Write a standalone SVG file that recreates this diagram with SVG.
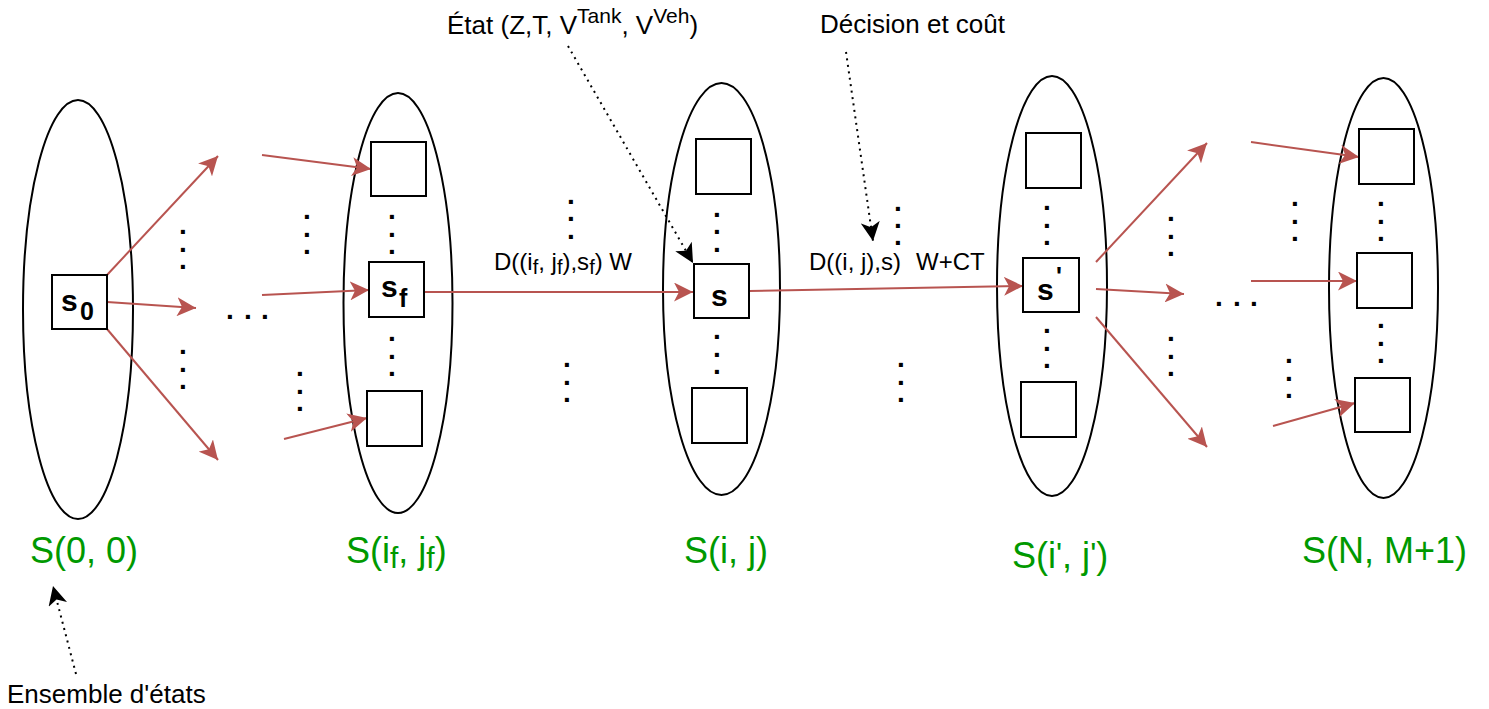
<svg xmlns="http://www.w3.org/2000/svg" width="1489" height="709" viewBox="0 0 1489 709">
<defs>
<style>
.ell{fill:none;stroke:#000;stroke-width:2}
.box{fill:#fff;stroke:#000;stroke-width:2}
.red{fill:none;stroke:#b85450;stroke-width:2;marker-end:url(#ar)}
.dotted{fill:none;stroke:#000;stroke-width:2;stroke-dasharray:2 4.5;marker-end:url(#ab)}
text{font-family:"Liberation Sans",Arial,Helvetica,sans-serif}
.lbl{font-size:26px;fill:#000}
.edge{font-size:24px;fill:#000}
.grn{font-size:36px;fill:#009900}
.st{font-size:30px;font-weight:bold;fill:#000}
.el{font-size:28px;font-weight:bold;fill:#000}
</style>
<marker id="ar" viewBox="0 0 20 19" refX="19" refY="9.5" markerWidth="20" markerHeight="19" markerUnits="userSpaceOnUse" orient="auto"><path d="M0,0 L19,9.5 L0,19 L5,9.5 Z" fill="#b85450" stroke="none"/></marker>
<marker id="ab" viewBox="0 0 20 19" refX="19" refY="9.5" markerWidth="20" markerHeight="19" markerUnits="userSpaceOnUse" orient="auto"><path d="M0,0 L19,9.5 L0,19 L5,9.5 Z" fill="#000" stroke="none"/></marker>
</defs>

<g id="set-0-0">
<ellipse class="ell" cx="78" cy="309.5" rx="55" ry="209.5"/>
<text class="grn" x="30" y="563">S(0, 0)</text>
</g>
<g id="set-if-jf">
<ellipse class="ell" cx="398" cy="303" rx="54.5" ry="210"/>
<text class="grn" x="346" y="563">S(i<tspan font-size="30" dy="5">f</tspan><tspan dy="-5">, j</tspan><tspan font-size="30" dy="5">f</tspan><tspan dy="-5">)</tspan></text>
</g>
<g id="set-i-j">
<ellipse class="ell" cx="721.5" cy="289" rx="58.5" ry="206"/>
<text class="grn" x="684" y="563">S(i, j)</text>
</g>
<g id="set-ip-jp">
<ellipse class="ell" cx="1052" cy="286" rx="55" ry="210"/>
<text class="grn" x="1012" y="568">S(i<tspan font-size="32" dy="-3">'</tspan><tspan dy="3">, j</tspan><tspan font-size="32" dy="-3">'</tspan><tspan dy="3">)</tspan></text>
</g>
<g id="set-N-M1">
<ellipse class="ell" cx="1383.5" cy="288" rx="54.5" ry="210"/>
<text class="grn" x="1302" y="563">S(N, M+1)</text>
</g>

<g id="connectors">
<path class="red" d="M107,275 L218,156"/>
<path class="red" d="M107,302 L196,308"/>
<path class="red" d="M107,329 L218,460"/>
<path class="red" d="M262,155 L371,169"/>
<path class="red" d="M262,295 L369,290"/>
<path class="red" d="M284,439 L367,418"/>
<path class="red" d="M424,292 L693,292"/>
<path class="red" d="M749,291 L1023,286"/>
<path class="red" d="M1096,262 L1207,143"/>
<path class="red" d="M1096,289 L1184,294"/>
<path class="red" d="M1096,317 L1207,447"/>
<path class="red" d="M1251,142 L1359,157"/>
<path class="red" d="M1251,281 L1357,281"/>
<path class="red" d="M1273,426 L1355,403"/>
<path class="dotted" d="M568,46 L693,263"/>
<path class="dotted" d="M846,52 L873,241"/>
<path class="dotted" d="M76,674 L53,586"/>
<text class="edge" x="494" y="270">D((i<tspan font-size="20" dy="4">f</tspan><tspan dy="-4">, j</tspan><tspan font-size="20" dy="4">f</tspan><tspan dy="-4">),s</tspan><tspan font-size="20" dy="4">f</tspan><tspan dy="-4">) W</tspan></text>
<text class="edge" x="809" y="270">D((i, j),s)</text>
<text class="edge" x="916" y="270">W+CT</text>
</g>

<g id="node-s0">
<rect class="box" x="52" y="275" width="55" height="54"/>
<text class="st" x="61" y="311">s<tspan font-size="25" x="80" y="320">0</tspan></text>
</g>
<g id="node-top-2">
<rect class="box" x="371" y="142" width="55" height="54"/>
</g>
<g id="node-sf">
<rect class="box" x="369" y="262" width="55" height="55"/>
<text class="st" x="381" y="297">s<tspan font-size="25" x="399" y="307">f</tspan></text>
</g>
<g id="node-bot-2">
<rect class="box" x="367" y="391" width="55" height="55"/>
</g>
<g id="node-top-3">
<rect class="box" x="696" y="139" width="55" height="55"/>
</g>
<g id="node-s">
<rect class="box" x="694" y="264" width="55" height="54"/>
<text class="st" x="711" y="306">s</text>
</g>
<g id="node-bot-3">
<rect class="box" x="692" y="388" width="55" height="55"/>
</g>
<g id="node-top-4">
<rect class="box" x="1026" y="133" width="55" height="55"/>
</g>
<g id="node-sp">
<rect class="box" x="1023" y="258" width="56" height="54"/>
<text class="st" x="1037" y="300">s<tspan font-size="25" x="1056" y="285">'</tspan></text>
</g>
<g id="node-bot-4">
<rect class="box" x="1021" y="382" width="55" height="55"/>
</g>
<g id="node-top-5">
<rect class="box" x="1359" y="129" width="55" height="55"/>
</g>
<g id="node-mid-5">
<rect class="box" x="1357" y="253" width="55" height="55"/>
</g>
<g id="node-bot-5">
<rect class="box" x="1355" y="378" width="55" height="54"/>
</g>

<g id="ellipsis-dots">
<text class="el" x="179 179 179" y="234 252 269">...</text>
<text class="el" x="179 179 179" y="354 372 389">...</text>
<text class="el" x="303 303 303" y="219 237 254">...</text>
<text class="el" x="296 296 296" y="376 394 411">...</text>
<text class="el" x="226 244 261" y="319 319 319">...</text>
<text class="el" x="388 388 388" y="219 237 254">...</text>
<text class="el" x="388 388 388" y="341 359 376">...</text>
<text class="el" x="567 567 567" y="204 221 239">...</text>
<text class="el" x="563 563 563" y="367 385 402">...</text>
<text class="el" x="713 713 713" y="217 234 252">...</text>
<text class="el" x="713 713 713" y="339 357 374">...</text>
<text class="el" x="894 894 894" y="211 228 245">...</text>
<text class="el" x="897 897 897" y="367 385 402">...</text>
<text class="el" x="1043 1043 1043" y="210 228 245">...</text>
<text class="el" x="1043 1043 1043" y="333 351 368">...</text>
<text class="el" x="1167 1167 1167" y="221 239 256">...</text>
<text class="el" x="1167 1167 1167" y="341 359 376">...</text>
<text class="el" x="1291 1291 1291" y="206 224 241">...</text>
<text class="el" x="1285 1285 1285" y="363 381 398">...</text>
<text class="el" x="1215 1233 1250" y="306 306 306">...</text>
<text class="el" x="1377 1377 1377" y="206 224 241">...</text>
<text class="el" x="1377 1377 1377" y="328 346 363">...</text>
</g>

<g id="annotations">
<text class="lbl" x="447" y="34">État (Z,T, V<tspan font-size="21" dy="-11">Tank</tspan><tspan dy="11">, V</tspan><tspan font-size="21" dy="-11">Veh</tspan><tspan dy="11">)</tspan></text>
<text class="lbl" x="820" y="33">Décision et coût</text>
<text class="lbl" x="7" y="703">Ensemble d'états</text>
</g>
</svg>
